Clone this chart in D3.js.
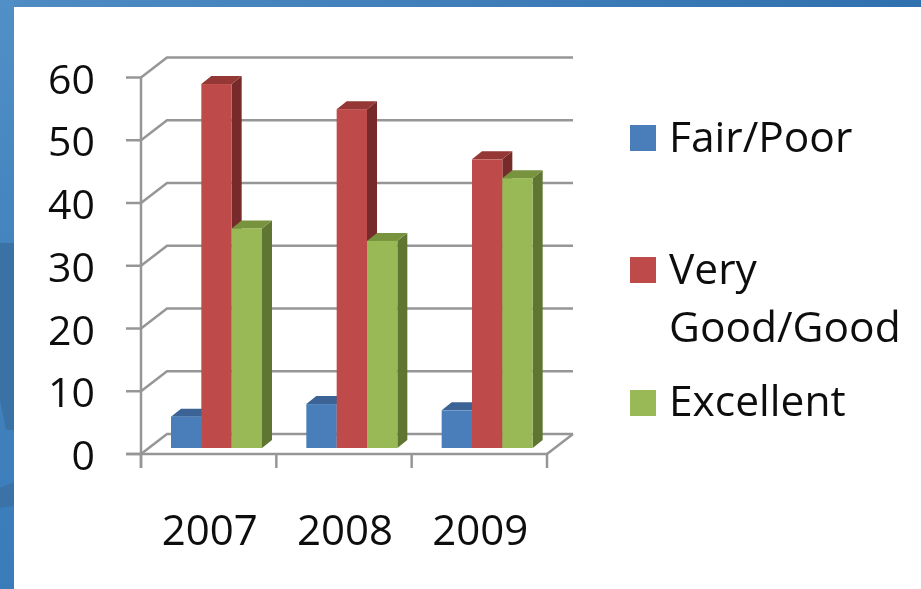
<!DOCTYPE html>
<html>
<head>
<meta charset="utf-8">
<script src="https://cdn.jsdelivr.net/npm/d3@7"></script>
<style>
  html, body { margin: 0; padding: 0; background: #fff; overflow: hidden; }
  svg { display: block; }
  text { font-family: "Open Sans", sans-serif; fill: #111; }
</style>
</head>
<body>
<div id="chart"></div>
<script>
const categories = ['2007', '2008', '2009'];
const seriesNames = ['Fair/Poor', 'Very Good/Good', 'Excellent'];
const fairPoor = [5, 7, 6];
const veryGoodGood = [58, 54, 46];
const excellent = [35, 33, 43];
const yTicks = [0, 10, 20, 30, 40, 50, 60];

const seriesValues = [fairPoor, veryGoodGood, excellent];
const frontColors = ['#4a7ebb', '#be4b48', '#98b954'];
const topColors = ['#3a6496', '#953735', '#77933c'];
const sideColors = ['#2f5380', '#772c2a', '#5f7530'];

const width = 921;
const height = 589;
const gridColor = '#969696';

const svg = d3.select('#chart').append('svg')
  .attr('width', width)
  .attr('height', height);

// slide background showing round the white panel
const defs = svg.append('defs');
const topGrad = defs.append('linearGradient').attr('id', 'topGrad');
topGrad.append('stop').attr('offset', '0%').attr('stop-color', '#4f8cc4');
topGrad.append('stop').attr('offset', '100%').attr('stop-color', '#2f70ae');
const leftGrad = defs.append('linearGradient').attr('id', 'leftGrad')
  .attr('x1', 0).attr('x2', 0).attr('y1', 0).attr('y2', 1);
leftGrad.append('stop').attr('offset', '0%').attr('stop-color', '#5190c6');
leftGrad.append('stop').attr('offset', '40%').attr('stop-color', '#4484bf');
leftGrad.append('stop').attr('offset', '100%').attr('stop-color', '#3a7cba');
defs.append('filter').attr('id', 'soft')
  .append('feGaussianBlur').attr('stdDeviation', 0.55);
svg.append('rect').attr('width', width).attr('height', 7).attr('fill', 'url(#topGrad)');
svg.append('rect').attr('width', 14).attr('height', height).attr('fill', 'url(#leftGrad)');
// darker shapes of the background picture on the left strip
svg.append('path')
  .attr('d', 'M0,243H14V430H6L0,400Z')
  .attr('fill', '#3a72a6');
svg.append('path')
  .attr('d', 'M0,488L14,482V506L0,508Z')
  .attr('fill', '#3a6f9f')
  .attr('opacity', 0.7);

const chart = svg.append('g').attr('filter', 'url(#soft)');

// front plane of the axes, the back wall sits up and to the right of it
const y = d3.scaleLinear().domain([0, 60]).range([454, 77.5]);
const x = d3.scaleBand().domain(categories).range([141, 547]);
const depth = { dx: 26, dy: -20 };
const barDepth = { dx: 10, dy: -8 };
const barInset = { x: 30, y: -6 };
const groupWidth = 91;
const xInner = d3.scaleBand().domain(d3.range(seriesNames.length)).range([0, groupWidth]);

const grid = chart.append('g')
  .attr('fill', 'none')
  .attr('stroke', gridColor)
  .attr('stroke-width', 2.5);

// walls
yTicks.forEach((t) => {
  grid.append('path')
    .attr('d', d3.line()([
      [141, y(t)],
      [141 + depth.dx, y(t) + depth.dy],
      [547 + depth.dx, y(t) + depth.dy]
    ]));
});
grid.append('path')
  .attr('d', d3.line()([
    [547, y(0)],
    [547 + depth.dx, y(0) + depth.dy]
  ]));

// y axis
grid.append('line')
  .attr('x1', 141).attr('x2', 141)
  .attr('y1', y(60)).attr('y2', y(0) + 14);
yTicks.forEach((t) => {
  grid.append('line')
    .attr('x1', 126).attr('x2', 141)
    .attr('y1', y(t)).attr('y2', y(t));
});

// x axis
grid.append('line')
  .attr('x1', 126).attr('x2', 547)
  .attr('y1', y(0)).attr('y2', y(0));
const xTickPos = categories.map((c) => x(c)).concat([x.range()[1]]);
xTickPos.forEach((p) => {
  grid.append('line')
    .attr('x1', p).attr('x2', p)
    .attr('y1', y(0)).attr('y2', y(0) + 14);
});

// bars, drawn left to right so each one covers its neighbour's side
categories.forEach((c, ci) => {
  const g = chart.append('g');
  seriesNames.forEach((name, si) => {
    const v = seriesValues[si][ci];
    const x0 = x(c) + barInset.x + xInner(si);
    const x1 = x0 + xInner.bandwidth();
    const y0 = y(v) + barInset.y;
    const y1 = y(0) + barInset.y;
    const d = barDepth;
    g.append('polygon')
      .attr('points', [[x1, y0], [x1 + d.dx, y0 + d.dy], [x1 + d.dx, y1 + d.dy], [x1, y1]].join(' '))
      .attr('fill', sideColors[si]);
    g.append('polygon')
      .attr('points', [[x0, y0], [x0 + d.dx, y0 + d.dy], [x1 + d.dx, y0 + d.dy], [x1, y0]].join(' '))
      .attr('fill', topColors[si]);
    g.append('rect')
      .attr('x', x0).attr('y', y0)
      .attr('width', x1 - x0).attr('height', y1 - y0)
      .attr('fill', frontColors[si]);
  });
});

// tick labels
chart.append('g').selectAll('text')
  .data(yTicks)
  .enter()
  .append('text')
  .attr('x', 95)
  .attr('y', (d) => y(d) + 16)
  .attr('text-anchor', 'end')
  .style('font-size', '41px')
  .text((d) => d);

chart.append('g').selectAll('text')
  .data(categories)
  .enter()
  .append('text')
  .attr('x', (d) => x(d) + x.bandwidth() / 2 + 1)
  .attr('y', 545)
  .attr('text-anchor', 'middle')
  .style('font-size', '42px')
  .text((d) => d);

// legend
const legendSwatchY = [125, 257, 390];
const legendLines = [['Fair/Poor'], ['Very', 'Good/Good'], ['Excellent']];
const legendTextY = [152, 284, 416];
const legend = chart.append('g');
seriesNames.forEach((name, i) => {
  legend.append('rect')
    .attr('x', 630).attr('y', legendSwatchY[i])
    .attr('width', 26).attr('height', 26)
    .attr('fill', frontColors[i]);
  legendLines[i].forEach((line, li) => {
    legend.append('text')
      .attr('x', 669)
      .attr('y', legendTextY[i] + li * 58)
      .style('font-size', '42.5px')
      .text(line);
  });
});
</script>
</body>
</html>
